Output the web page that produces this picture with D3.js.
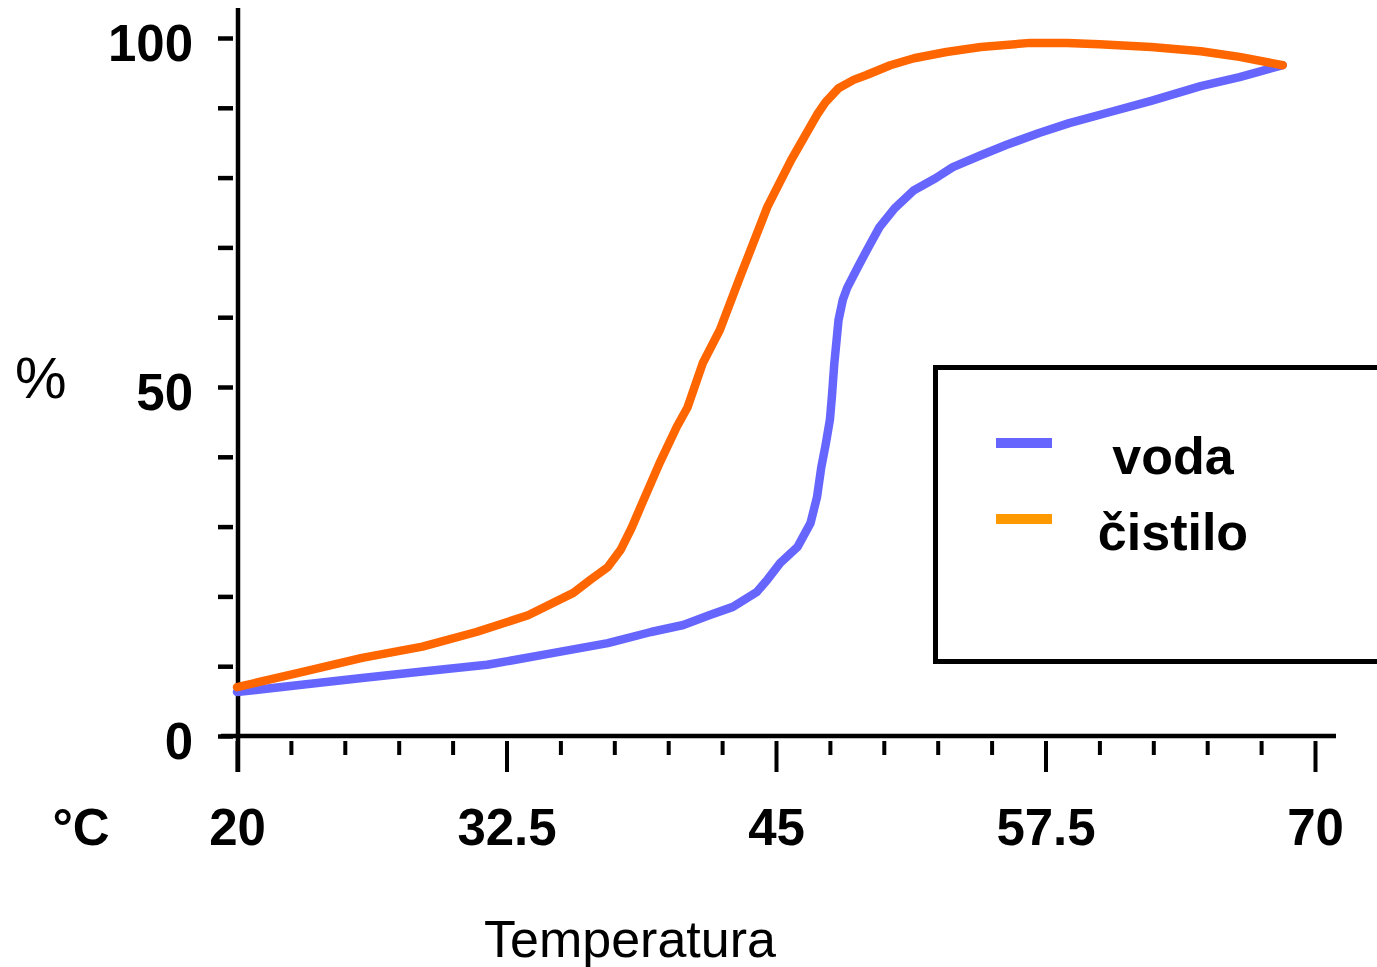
<!DOCTYPE html>
<html>
<head>
<meta charset="utf-8">
<script src="https://cdn.jsdelivr.net/npm/d3@7"></script>
<style>
  body { margin: 0; background: #fff; }
  svg { display: block; }
  text { font-family: "Liberation Sans", Arial, Helvetica, sans-serif; }
</style>
</head>
<body>
<svg id="chart" width="1377" height="967"></svg>
<script>
// temperatures (°C) and percentages
const vodaT = [20, 22.9, 25.8, 28.5, 31.6, 34.5, 37.2, 39.2, 40.7, 41.9, 43.0, 44.1, 44.6, 45.2,
  46.0, 46.6, 46.9, 47.1, 47.3, 47.5, 47.6, 47.7, 47.9, 48.1, 48.3, 48.8, 49.3, 49.8, 50.5, 51.4,
  52.4, 53.2, 54.5, 55.7, 57.2, 58.6, 60.5, 62.4, 64.7, 66.5, 68.5];
const vodaP = [6.3, 7.3, 8.3, 9.2, 10.2, 11.8, 13.3, 14.9, 15.9, 17.3, 18.5, 20.6, 22.4, 24.8,
  27.1, 30.5, 34.2, 38.5, 41.7, 45.3, 48.9, 53.2, 59.6, 62.5, 64.2, 67.2, 70.1, 72.9, 75.6, 78.2,
  79.9, 81.5, 83.2, 84.7, 86.4, 87.8, 89.4, 91.0, 93.1, 94.4, 96.1];

const cistiloT = [20, 22.8, 25.8, 28.6, 31.1, 33.5, 35.6, 36.4, 37.2, 37.8, 38.3, 38.8, 39.6, 40.4,
  40.9, 41.6, 42.4, 43.3, 44.6, 45.7, 46.9, 47.3, 47.9, 48.6, 49.2, 50.3, 51.4, 52.9, 54.5, 56.8,
  58.5, 60.0, 62.4, 64.7, 66.5, 68.5];
const cistiloP = [7.0, 9.0, 11.2, 12.8, 14.9, 17.3, 20.5, 22.4, 24.2, 26.7, 29.8, 33.4, 39.1, 44.3,
  47.1, 53.4, 58.2, 65.5, 75.8, 82.5, 89.0, 90.8, 92.8, 94.0, 94.7, 96.1, 97.1, 98.0, 98.7, 99.3,
  99.3, 99.1, 98.7, 98.1, 97.3, 96.1];

const xMajor = [20, 32.5, 45, 57.5, 70];
const xMinor = d3.range(22.5, 70, 2.5).filter(v => xMajor.indexOf(v) === -1);
const yTicks = d3.range(0, 101, 10);
const yLabels = [0, 50, 100];

const series = [
  {name: "voda", t: vodaT, p: vodaP, color: "#6666ff", legendColor: "#6666ff"},
  {name: "čistilo", t: cistiloT, p: cistiloP, color: "#ff6600", legendColor: "#ff9900"}
];

const svg = d3.select("#chart");
const x = d3.scaleLinear().domain([20, 70]).range([237, 1315]);
const y = d3.scaleLinear().domain([0, 100]).range([736, 38]);

  // x ticks, drawn with a small gap below the axis line
const xMajorAxis = d3.axisBottom(x).tickValues(xMajor).tickSize(31).tickSizeOuter(0)
    .tickFormat(d => d3.format("")(d));
const gxMajor = svg.append("g").attr("transform", "translate(0,741)").call(xMajorAxis);
gxMajor.select(".domain").remove();
gxMajor.selectAll("line").attr("stroke", "#000").attr("stroke-width", 4);
gxMajor.selectAll("text")
    .attr("y", 104).attr("dy", 0)
    .attr("fill", "#000")
    .style("font-size", "51px").style("font-weight", "bold");

const gxMinor = svg.append("g").attr("transform", "translate(0,741)")
    .call(d3.axisBottom(x).tickValues(xMinor).tickSize(14).tickSizeOuter(0).tickFormat(""));
gxMinor.select(".domain").remove();
gxMinor.selectAll("line").attr("stroke", "#000").attr("stroke-width", 4);

  // y ticks, all the same length, labels only at 0, 50, 100
const gy = svg.append("g").attr("transform", "translate(233,0)")
    .call(d3.axisLeft(y).tickValues(yTicks).tickSize(15).tickSizeOuter(0)
      .tickFormat(d => yLabels.indexOf(d) !== -1 ? d : ""));
gy.select(".domain").remove();
gy.selectAll("line").attr("stroke", "#000").attr("stroke-width", 4.5);
gy.selectAll("text")
    .attr("x", -40).attr("dy", 22)
    .attr("fill", "#000")
    .style("font-size", "51px").style("font-weight", "bold");

  // axis lines
svg.append("line")
    .attr("x1", 221).attr("x2", 1336).attr("y1", y(0)).attr("y2", y(0))
    .attr("stroke", "#000").attr("stroke-width", 4.5);
svg.append("line")
    .attr("x1", 238).attr("x2", 238).attr("y1", 8).attr("y2", 772)
    .attr("stroke", "#000").attr("stroke-width", 4.5);

  // curves
const line = d3.line().x(d => x(d[0])).y(d => y(d[1]));
series.forEach(function(s) {
  svg.append("path")
      .datum(s.t.map((t, i) => [t, s.p[i]]))
      .attr("d", line)
      .attr("fill", "none")
      .attr("stroke", s.color)
      .attr("stroke-width", 8.5)
      .attr("stroke-linejoin", "round")
      .attr("stroke-linecap", "round");
});

  // axis titles
svg.append("text").attr("x", 15).attr("y", 398)
    .style("font-size", "58px").text("%");
svg.append("text").attr("x", 81).attr("y", 845).attr("text-anchor", "middle")
    .style("font-size", "51px").style("font-weight", "bold").text("°C");
svg.append("text").attr("x", 630).attr("y", 957).attr("text-anchor", "middle")
    .style("font-size", "52px").text("Temperatura");

  // legend
svg.append("rect")
    .attr("x", 935.5).attr("y", 367.5).attr("width", 460).attr("height", 294)
    .attr("fill", "none").attr("stroke", "#000").attr("stroke-width", 5);
const legend = svg.selectAll("g.legend").data(series).enter().append("g")
    .attr("class", "legend")
    .attr("transform", (d, i) => "translate(0," + (i * 76) + ")");
legend.append("line")
    .attr("x1", 996).attr("x2", 1052).attr("y1", 443).attr("y2", 443)
    .attr("stroke", d => d.legendColor).attr("stroke-width", 10);
legend.append("text")
    .attr("x", 1173).attr("y", 474).attr("text-anchor", "middle")
    .style("font-size", "52px").style("font-weight", "bold")
    .text(d => d.name);
</script>
</body>
</html>
